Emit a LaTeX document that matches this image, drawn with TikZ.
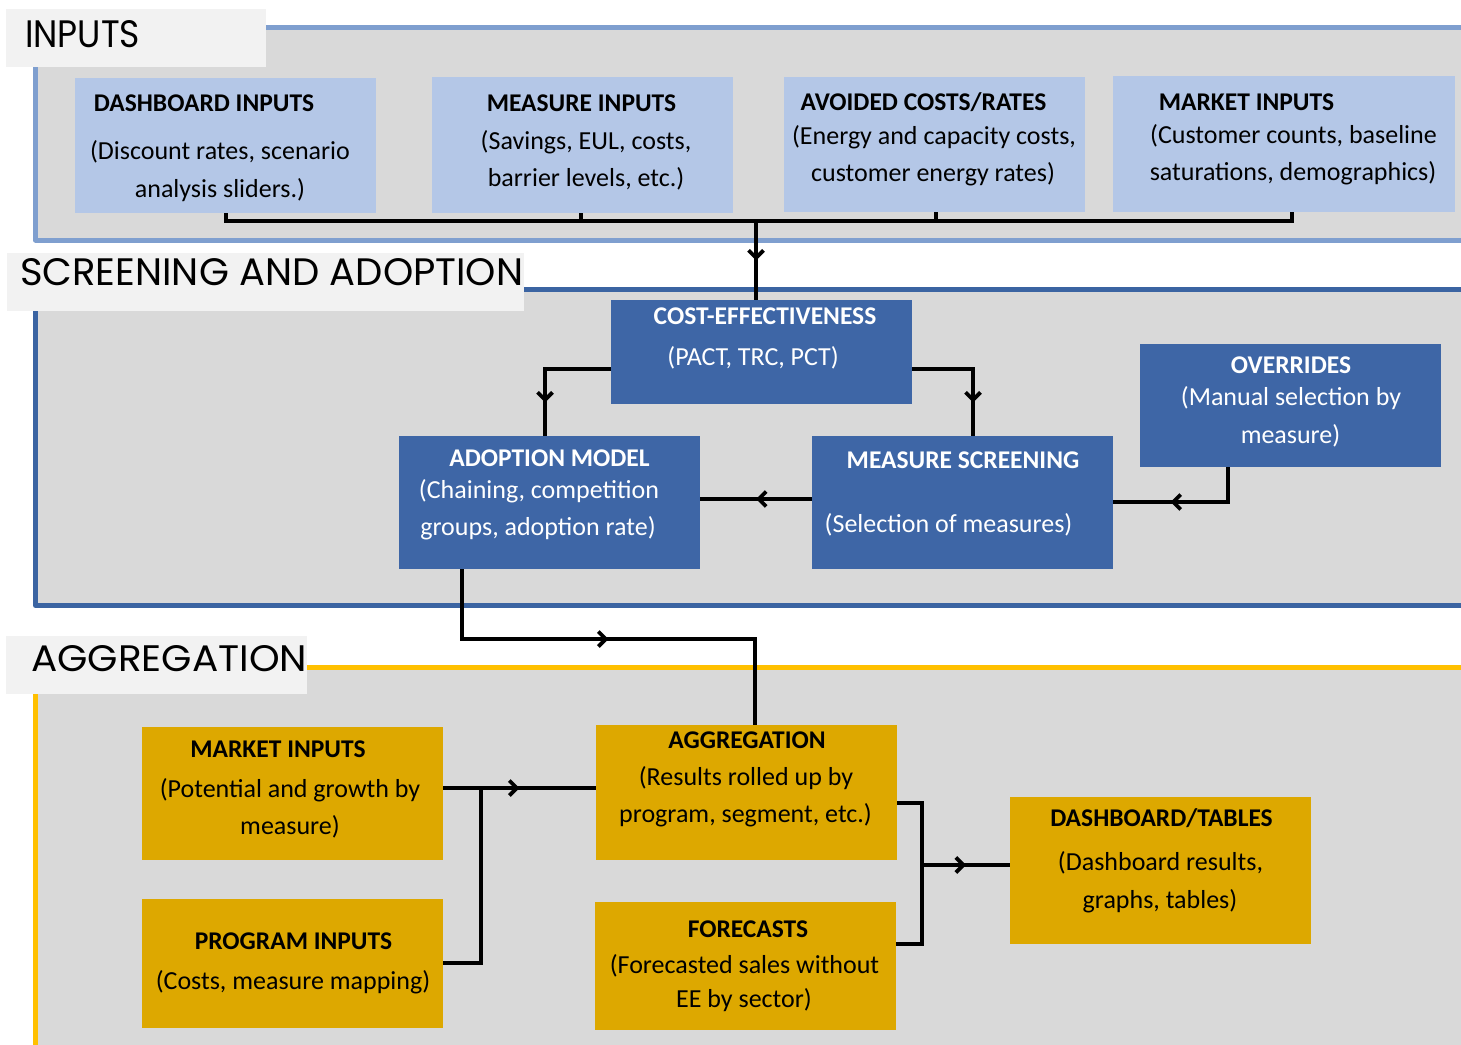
\documentclass[tikz,border=0pt]{standalone}
\usepackage{fontspec}
\setmainfont{Carlito}
\newfontfamily\titlefont{Poppins}
\usetikzlibrary{arrows.meta,decorations.markings}

\definecolor{secgray}{HTML}{D9D9D9}
\definecolor{titlegray}{HTML}{F2F2F2}
\definecolor{lblue}{HTML}{B4C7E7}
\definecolor{lblueborder}{HTML}{7F9FCF}
\definecolor{dblue}{HTML}{3E66A6}
\definecolor{dblueborder}{HTML}{3B64A2}
\definecolor{goldbox}{HTML}{DDA800}
\definecolor{goldborder}{HTML}{FFC000}

\tikzset{
  section/.style={fill=secgray, line width=5pt, line join=round},
  titlebox/.style={rectangle, fill=titlegray, inner sep=0, outer sep=0, anchor=north west},
  box/.style={rectangle, inner sep=0, outer sep=0},
  lbox/.style={box, fill=lblue},
  dbox/.style={box, fill=dblue},
  gbox/.style={box, fill=goldbox},
  conn/.style={line width=3.8pt, black, line join=miter},
  midarrow/.style={postaction=decorate, decoration={markings,
      mark=at position 0.5 with {\arrow{Straight Barb[length=7.5pt,width=15pt]}}}},
  hd/.style={anchor=base, inner sep=0, font=\fontsize{25.5}{30}\selectfont\bfseries},
  bd/.style={anchor=base, inner sep=0, font=\fontsize{26}{31}\selectfont},
  ttl/.style={anchor=base west, inner sep=0, font=\titlefont\fontsize{38}{40}\selectfont},
}

\begin{document}
\begin{tikzpicture}[x=1pt, y=-1pt]
\clip (0,0) rectangle (1461,1044);
\fill[white] (0,0) rectangle (1461,1044);

% ---------------- sections
\draw[section, draw=lblueborder] (35.5,27.5) rectangle (1500,240);
\draw[section, draw=dblueborder] (35.5,289.5) rectangle (1500,605.5);
\draw[section, draw=goldborder] (35.5,667.5) rectangle (1500,1100);

\node[titlebox, minimum width=260pt, minimum height=58pt] (tin) at (6,9) {};
\node[ttl] (tintxt) at (25,47) {\resizebox{115pt}{27pt}{INPUTS}};
\node[titlebox, minimum width=517pt, minimum height=58pt] (tscr) at (7,253) {};
\node[ttl] (tscrtxt) at (20,285) {\resizebox{503pt}{27pt}{SCREENING AND ADOPTION}};
\node[titlebox, minimum width=301pt, minimum height=58pt] (tagg) at (6,636) {};
\node[ttl] (taggtxt) at (31,671) {\resizebox{276pt}{26pt}{AGGREGATION}};

% ---------------- input boxes
\node[lbox, minimum width=301pt, minimum height=135pt] (dash)  at (225.5,145.5) {};
\node[lbox, minimum width=301pt, minimum height=136pt] (meas)  at (582.5,145) {};
\node[lbox, minimum width=301pt, minimum height=135pt] (avoid) at (934.5,144.5) {};
\node[lbox, minimum width=342pt, minimum height=136pt] (mkt)   at (1284,144) {};

\node[hd] (dash1) at (204,111) {DASHBOARD INPUTS};
\node[bd] (dash2) at (220,159) {(Discount rates, scenario};
\node[bd] (dash3) at (220,197) {analysis sliders.)};

\node[hd] (meas1) at (581.5,111) {MEASURE INPUTS};
\node[bd] (meas2) at (586,149) {(Savings, EUL, costs,};
\node[bd] (meas3) at (586,186) {barrier levels, etc.)};

\node[hd] (avoid1) at (923.5,110) {AVOIDED COSTS/RATES};
\node[bd] (avoid2) at (934,144) {(Energy and capacity costs,};
\node[bd] (avoid3) at (933,181) {customer energy rates)};

\node[hd] (mkt1) at (1246.5,110) {MARKET INPUTS};
\node[bd] (mkt2l) at (1293.5,143) {(Customer counts, baseline};
\node[bd] (mkt3) at (1293,180) {saturations, demographics)};

% ---------------- screening boxes
\node[dbox, minimum width=301pt, minimum height=104pt] (ce)    at (761.5,352) {};
\node[dbox, minimum width=301pt, minimum height=123pt] (ovr)   at (1290.5,405.5) {};
\node[dbox, minimum width=301pt, minimum height=133pt] (adopt) at (549.5,502.5) {};
\node[dbox, minimum width=301pt, minimum height=133pt] (scr)   at (962.5,502.5) {};

\begin{scope}[text=white]
\node[hd] (ce1) at (765,324) {COST-EFFECTIVENESS};
\node[bd] (ce2) at (753,365) {(PACT, TRC, PCT)};
\node[hd] (ovr1) at (1291,373) {OVERRIDES};
\node[bd] (ovr2) at (1291,405) {(Manual selection by};
\node[bd] (ovr3) at (1290.5,443) {measure)};
\node[hd] (adopt1) at (549.5,466) {ADOPTION MODEL};
\node[bd] (adopt2) at (539,498) {(Chaining, competition};
\node[bd] (adopt3) at (538,535) {groups, adoption rate)};
\node[hd] (scr1) at (963,468) {MEASURE SCREENING};
\node[bd] (scr2) at (948.5,532) {(Selection of measures)};
\end{scope}

% ---------------- aggregation boxes
\node[gbox, minimum width=301pt, minimum height=133pt] (mktb)    at (292.5,793.5) {};
\node[gbox, minimum width=301pt, minimum height=129pt] (prog)    at (292.5,963.5) {};
\node[gbox, minimum width=301pt, minimum height=135pt] (agg)     at (746.5,792.5) {};
\node[gbox, minimum width=301pt, minimum height=128pt] (fore)    at (745.5,966) {};
\node[gbox, minimum width=301pt, minimum height=147pt] (dashtab) at (1160.5,870.5) {};

\node[hd] (mktb1) at (278,757) {MARKET INPUTS};
\node[bd] (mktb2) at (290,797) {(Potential and growth by};
\node[bd] (mktb3) at (290,834) {measure)};
\node[hd] (prog1) at (293.5,949) {PROGRAM INPUTS};
\node[bd] (prog2) at (293,989) {(Costs, measure mapping)};
\node[hd] (agg1) at (747,748) {AGGREGATION};
\node[bd] (agg2) at (746,785) {(Results rolled up by};
\node[bd] (agg3) at (745.5,822) {program, segment, etc.)};
\node[hd] (fore1) at (748,937) {FORECASTS};
\node[bd] (fore2) at (744.5,973) {(Forecasted sales without};
\node[bd] (fore3) at (744,1007) {EE by sector)};
\node[hd] (dt1) at (1161.5,826) {DASHBOARD/TABLES};
\node[bd] (dt2) at (1160.5,870) {(Dashboard results,};
\node[bd] (dt3) at (1160,908) {graphs, tables)};

% ---------------- connectors
\coordinate (b1) at (226,221);
\coordinate (b2) at (581,221);
\coordinate (b3) at (936,221);
\coordinate (b4) at (1292,221);
\coordinate (bj) at (756,221);
\draw[conn] (dash.south -| b1) -- (b1) -- (b4) -- (mkt.south -| b4);
\draw[conn] (meas.south -| b2) -- (b2);
\draw[conn] (avoid.south -| b3) -- (b3);
\draw[conn, midarrow] (bj) -- (ce.north -| bj);

\coordinate (c1) at (545,369);
\coordinate (c2) at (973,369);
\draw[conn] (ce.west |- c1) -- (c1) -- (adopt.north -| c1);
\draw[conn, midarrow] (c1) -- (adopt.north -| c1);
\draw[conn] (ce.east |- c2) -- (c2) -- (scr.north -| c2);
\draw[conn, midarrow] (c2) -- (scr.north -| c2);

\coordinate (s1) at (756,499);
\draw[conn, midarrow] (scr.west |- s1) -- (adopt.east |- s1);

\coordinate (o1) at (1228,502);
\draw[conn] (ovr.south -| o1) -- (o1) -- (scr.east |- o1);
\draw[conn, midarrow] (o1) -- (scr.east |- o1);

\coordinate (a1) at (462,639);
\coordinate (a2) at (755,639);
\draw[conn] (adopt.south -| a1) -- (a1) -- (a2) -- (agg.north -| a2);
\draw[conn, midarrow] (a1) -- (a2);

\coordinate (m1) at (481,788);
\coordinate (p1) at (481,963);
\draw[conn, midarrow] (mktb.east |- m1) -- (agg.west |- m1);
\draw[conn] (prog.east |- p1) -- (p1) -- (m1);

\coordinate (r1) at (922,803);
\coordinate (r2) at (922,944);
\coordinate (r3) at (922,865);
\draw[conn] (agg.east |- r1) -- (r1) -- (r2) -- (fore.east |- r2);
\draw[conn, midarrow] (r3) -- (dashtab.west |- r3);
\end{tikzpicture}
\end{document}
